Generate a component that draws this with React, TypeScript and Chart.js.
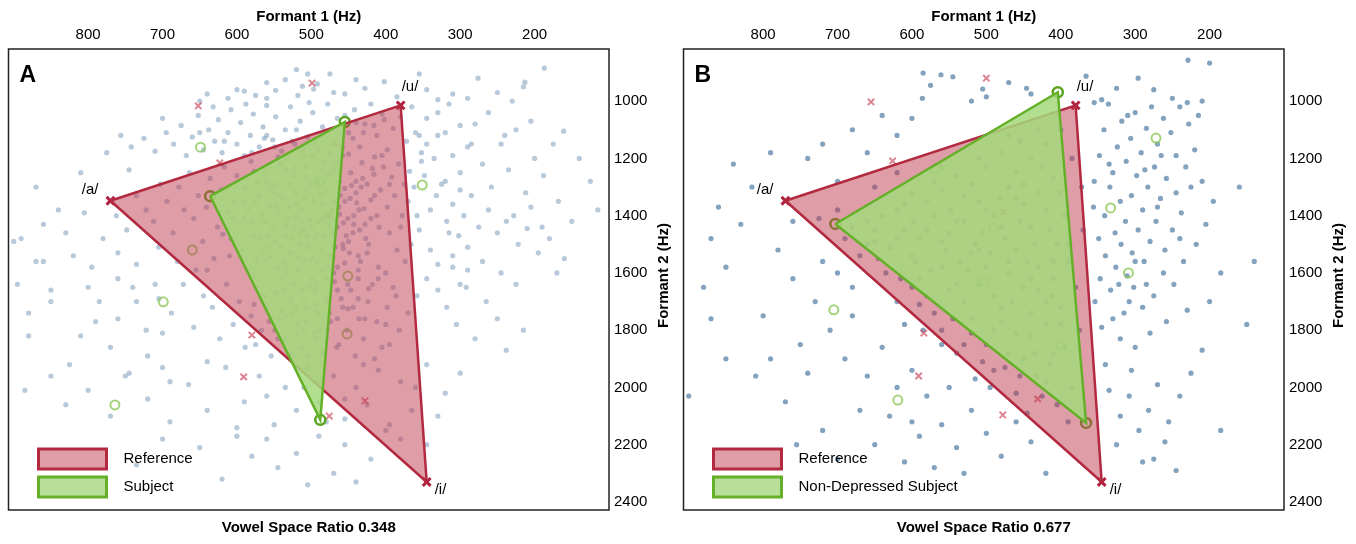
import React, { useEffect, useRef } from "react";
import { Chart, registerables } from "chart.js";

Chart.register(...registerables);

// ---------- data ----------
const F1_RANGE = [100, 907];
const F2_RANGE = [818, 2428];
const F1_TICKS = [200, 300, 400, 500, 600, 700, 800];
const F2_TICKS = [1000, 1200, 1400, 1600, 1800, 2000, 2200, 2400];
const VOWEL_LABELS = ["/a/", "/u/", "/i/"];

const REFERENCE_F1 = [770, 380, 345];
const REFERENCE_F2 = [1348, 1015, 2330];
const SUBJECT_A_F1 = [636, 455, 488];
const SUBJECT_A_F2 = [1332, 1073, 2113];
const SUBJECT_B_F1 = [703, 404, 366];
const SUBJECT_B_F2 = [1429, 969, 2124];

const REF_EXTRA_A = [[499, 937], [652, 1017], [623, 1216], [469, 1147], [476, 1401], [580, 1817], [591, 1963], [428, 2047], [476, 2100]];
const SUBJ_EXTRA_A = [[649, 1161], [351, 1293], [489, 1279], [660, 1520], [699, 1701], [451, 1611], [452, 1813], [764, 2061]];
const REF_EXTRA_B = [[500, 920], [655, 1003], [626, 1209], [477, 1387], [584, 1810], [591, 1960], [431, 2040], [478, 2096]];
const SUBJ_EXTRA_B = [[272, 1129], [333, 1373], [309, 1600], [491, 1443], [503, 1628], [400, 1855], [705, 1729], [619, 2044], [568, 1237]];

const LEGEND_A = ["Reference", "Subject"];
const LEGEND_B = ["Reference", "Non-Depressed Subject"];
const RATIO_A = "Vowel Space Ratio 0.348";
const RATIO_B = "Vowel Space Ratio 0.677";

const DOTS_A = [
  [187,885],[213,934],[215,950],[276,920],[355,905],[402,932],[428,955],[440,925],[470,970],[492,940],[497,958],[505,905],[512,948],[518,980],[535,925],[548,962],[560,935],[575,980],[590,965],[612,990],[640,975],[520,890],[455,975],[385,985],[345,960],[330,995],[310,975],[290,990],[250,970],[230,1000],[475,905],[560,990],[650,1000],[600,960],
  [161,1105],[205,1070],[240,1120],[262,1040],[285,1150],[300,1085],[315,1010],[330,1120],[345,1060],[352,1180],[365,1020],[372,1140],[390,1095],[398,1170],[405,1045],[412,1120],[420,1010],[428,1080],[435,1160],[442,1030],[450,1110],[458,1190],[465,1060],[470,1140],[478,1010],[485,1090],[490,1170],[498,1040],[505,1125],[510,1190],[515,1070],[522,1150],[528,1020],[535,1100],[540,1175],[548,1055],[552,1135],[560,1015],[565,1090],[570,1160],[578,1045],[582,1120],[590,1190],[595,1075],[600,1150],[608,1030],[612,1110],[620,1180],[625,1065],[630,1140],[638,1100],[645,1170],[652,1050],[660,1125],[668,1190],[675,1085],[685,1150],[695,1110],[710,1175],[725,1130],[742,1160],[756,1120],[545,1195],[475,1185],[415,1195],[588,1010],[632,1020],[455,1050],[503,1005],[380,1055],[360,1110],[650,1110],[700,1060],[580,1180],[520,1100],[440,1075],[617,1140],[560,1120],[495,1145],
  [352,1210],[368,1245],[375,1290],[383,1220],[388,1330],[392,1265],[398,1370],[403,1230],[407,1310],[412,1400],[416,1255],[420,1345],[425,1290],[428,1430],[432,1215],[436,1380],[440,1320],[444,1460],[447,1250],[451,1410],[455,1350],[458,1500],[462,1280],[465,1440],[469,1220],[472,1380],[476,1540],[479,1310],[483,1470],[486,1240],[490,1420],[493,1560],[497,1350],[500,1290],[503,1500],[507,1230],[510,1450],[514,1380],[517,1590],[521,1320],[524,1260],[528,1530],[531,1410],[535,1470],[538,1340],[542,1220],[545,1580],[549,1290],[552,1440],[556,1370],[560,1510],[563,1250],[567,1400],[570,1330],[574,1560],[578,1470],[581,1210],[585,1380],[589,1300],[592,1520],[596,1430],[600,1260],[604,1350],[608,1480],[612,1390],[617,1230],[621,1310],[626,1440],[631,1550],[636,1270],[641,1370],[646,1490],[652,1330],[658,1410],[664,1250],[671,1380],[678,1300],[686,1460],[694,1350],[703,1290],[712,1420],[722,1380],[735,1330],[748,1450],[762,1400],[780,1480],[805,1390],[830,1460],[860,1430],[890,1480],[870,1560],[820,1540],[795,1580],[760,1530],[735,1570],[705,1510],[680,1560],[655,1590],[395,1460],[385,1520],[378,1400],[370,1350],[362,1300],[355,1450],[348,1260],[340,1380],[332,1330],[325,1290],[318,1420],[310,1360],[302,1470],[295,1400],[285,1330],[275,1440],[262,1380],[250,1460],[238,1420],[222,1500],[210,1445],[195,1530],[180,1480],[160,1550],[340,1520],[330,1570],[310,1540],[290,1590],[410,1580],[425,1530],[437,1590],[455,1565],[470,1600],[487,1520],[508,1555],[533,1600],[555,1545],[585,1590],[610,1540],[640,1590],
  [431,1270],[439,1355],[446,1295],[453,1470],[461,1330],[468,1510],[474,1250],[481,1395],[488,1325],[495,1480],[502,1415],[509,1340],[516,1500],[523,1440],[530,1290],[537,1560],[544,1390],[551,1320],[558,1470],[565,1530],[572,1285],[579,1420],[427,1480],[434,1560],[443,1400],[449,1530],[457,1425],[463,1370],[471,1460],[478,1580],[485,1360],[492,1300],[499,1550],[506,1470],[513,1420],[520,1360],[527,1480],[534,1240],[541,1510],[548,1370],[555,1300],[562,1420],[569,1480],
  [405,1190],[418,1235],[433,1300],[448,1340],[462,1395],[477,1430],[491,1465],[505,1510],[519,1545],[533,1580],[410,1620],[423,1655],[437,1690],[451,1725],[465,1760],[479,1795],[493,1830],[507,1265],[521,1230],[535,1195],[549,1160],[563,1130],[577,1245],[591,1355],[605,1410],[619,1465],[450,1185],[464,1215],[478,1260],[492,1285],[506,1310],[520,1405],[534,1435],[548,1490],[562,1555],[576,1610],[415,1330],[429,1375],[443,1430],[457,1515],[471,1545],[485,1590],[499,1620],[513,1660],[527,1690],[541,1730],[395,1290],[409,1440],[423,1500],[437,1540],[451,1640],[465,1660],[479,1700],[493,1710],[507,1770],[521,1820],[535,1750],[549,1800],[563,1680],[577,1710],[440,1280],[455,1305],[470,1350],[485,1410],[500,1440],[515,1460],[530,1370],[545,1330],[560,1280],[575,1350],[590,1410],[420,1410],[435,1450],[450,1490],[465,1580],[480,1620],[495,1660],[510,1700],[525,1740],[540,1620],[400,1600],[386,1680],[374,1560],[366,1500],[358,1400],[380,1440],[470,1240],[484,1210],[498,1190],[512,1170],[526,1140],[458,1160],[444,1130],[430,1110],[416,1085],[402,1065],
  [345,1620],[358,1680],[370,1740],[382,1800],[390,1650],[398,1720],[405,1860],[412,1770],[418,1640],[424,1700],[430,1830],[436,1760],[441,1890],[447,1660],[452,1800],[458,1720],[463,1850],[469,1630],[474,1770],[480,1690],[485,1880],[491,1740],[496,1810],[502,1650],[507,1720],[513,1860],[519,1780],[524,1640],[530,1700],[536,1830],[542,1760],[548,1670],[554,1890],[560,1720],[567,1800],[574,1650],[581,1750],[589,1860],[597,1700],[605,1780],[614,1640],[623,1830],[633,1720],[645,1680],[658,1790],[672,1640],[688,1740],[705,1690],[722,1800],[740,1650],[760,1760],[785,1700],[810,1820],[850,1660],[880,1740],[330,1660],[318,1720],[305,1780],[292,1650],[280,1830],[265,1700],[250,1760],[238,1870],[225,1640],[215,1800],[395,1850],[415,1900],[437,1620],[460,1690],[476,1740],[493,1640],[510,1800],[527,1880],[545,1830],[400,1780],[428,1760],[444,1720],[466,1860],[487,1800],[505,1890],[520,1720],[538,1660],[557,1770],[575,1850],
  [300,1950],[320,2020],[345,1920],[365,2080],[380,1980],[395,2130],[410,1940],[425,2060],[440,2000],[455,2110],[470,1960],[490,2050],[505,1930],[520,2080],[535,2000],[550,2130],[570,1960],[590,2050],[615,1930],[640,2080],[665,1990],[690,2120],[720,2040],[745,1950],[770,2100],[800,2010],[830,2060],[850,1960],[885,2010],[640,1910],[560,2030],[480,2120],[430,1920],[360,2000],[330,2100],[600,2140],[700,1930],[510,2000],[455,2040],
  [380,2180],[420,2250],[455,2200],[470,2300],[490,2170],[520,2230],[545,2280],[560,2180],[580,2240],[600,2170],[620,2320],[650,2210],[700,2180],[735,2270],[440,2330],[505,2340],[345,2200],[400,2150],
  [330,1040],[320,1110],[310,1190],[300,1250],[290,1160],[280,1080],[270,1220],[258,1300],[245,1150],[235,1240],[225,1100],[212,1320],[200,1200],[188,1260],[175,1150],[168,1350],[150,1420],[140,1200],[125,1280],[115,1380],[300,1310],[320,1280],[335,1200],[345,1150],[355,1120],[315,1460],[290,1510],[270,1560],[245,1600],[228,1400],[205,1370],[190,1440],[170,1600],[300,1640],[310,1580],
  [900,1490],[895,1640],[880,1820],[870,1300],[860,1560],[850,1700],[840,1380],[825,1920],[810,1250],[800,1650],[790,1770],[775,1180],[770,1860],[760,1620],[750,1960],[745,1240],[735,1700],[720,1890],[710,1640],[700,1810],[690,1980]
];

const DOTS_B = [
  [229,857],[200,867],[585,902],[561,908],[545,915],[366,913],[446,955],[505,958],[500,985],[586,990],[520,1000],[575,945],[470,935],[440,975],[296,920],[325,955],[275,960],[250,990],[230,1005],[210,1000],[345,995],[355,1005],
  [215,1050],[228,1080],[240,1020],[252,1110],[262,1060],[270,1150],[278,1020],[285,1095],[292,1180],[300,1040],[306,1130],[312,1210],[318,1070],[324,1160],[330,1250],[336,1010],[342,1100],[348,1190],[355,1280],[220,1170],[232,1230],[245,1190],[258,1270],[266,1340],[274,1230],[283,1300],[290,1380],[298,1260],[305,1330],[313,1420],[320,1350],[327,1460],[334,1300],[341,1400],[349,1480],[356,1370],[225,1300],[238,1390],[250,1450],[260,1520],[272,1420],[280,1490],[288,1560],[296,1450],[304,1530],[311,1610],[319,1500],[326,1580],[333,1660],[340,1540],[347,1620],[354,1700],[205,1430],[218,1500],[235,1560],[248,1640],[262,1600],[275,1680],[290,1720],[302,1650],[315,1740],[330,1760],[345,1790],[210,1280],[195,1350],[185,1600],[200,1700],[230,1730],[258,1770],[280,1810],[300,1860],[320,1830],[265,1190],[245,1320],[310,1050],[287,1240],[335,1220],[300,1560],[285,1640],[270,1370],[322,1640],[308,1700],[240,1480],
  [210,1870],[225,1950],[240,2030],[255,2120],[270,1990],[282,2080],[295,2150],[308,2030],[320,2100],[335,2010],[260,2190],[275,2250],[245,2290],[305,1940],[325,2200],[290,2260],[340,1920],[160,1300],[140,1560],[150,1780],[185,2150],
  [400,1100],[420,1150],[440,1200],[460,1250],[480,1180],[500,1230],[520,1290],[540,1260],[560,1310],[580,1350],[600,1320],[620,1380],[640,1400],[660,1420],[680,1440],[410,1270],[430,1320],[450,1360],[470,1300],[490,1400],[510,1350],[530,1420],[550,1460],[570,1400],[590,1480],[610,1450],[630,1510],[650,1490],[670,1540],[395,1400],[415,1450],[435,1500],[455,1420],[475,1480],[495,1530],[515,1500],[535,1560],[555,1520],[575,1590],[595,1560],[615,1620],[635,1600],[390,1560],[410,1620],[430,1580],[450,1650],[470,1600],[490,1680],[510,1640],[530,1700],[550,1660],[570,1740],[590,1710],[610,1780],[400,1720],[420,1780],[440,1740],[460,1810],[480,1770],[500,1850],[520,1810],[540,1880],[560,1850],[395,1860],[415,1920],[435,1880],[455,1960],[475,1930],[495,2000],[515,1970],[385,2000],[405,2060],[425,2030],[445,2090],[390,2120],[412,1680],[445,1560],[505,1460],[455,1140],[425,1230],[482,1340],[548,1380],[598,1420],[525,1590],[465,1700],[545,1760],[405,1500],[375,1800],[380,1650],[370,1450],[372,1300],[385,1200],[660,1500],[690,1480],[645,1550],[620,1700],[585,1800],[470,1880],[432,1960],[505,1910],[590,1620],
  [430,1100],[470,1120],[510,1200],[450,1290],[530,1330],[570,1280],[610,1360],[650,1450],[480,1440],[520,1530],[560,1580],[600,1650],[440,1620],[460,1520],[500,1580],[540,1640],[580,1680],[420,1700],[480,1720],[520,1760],[560,1800],[440,1820],[490,1800],[530,1850],[410,1880],[450,1900],[490,1940],[420,1980],[460,2020],[400,1780],[400,1320],[420,1380],[440,1440],[390,1500],[410,1560],[460,1340],[500,1380],[540,1420],[580,1450],[620,1480],[600,1540],[560,1490],[510,1520],[470,1560],[430,1660],
  [880,1650],[870,1480],[860,1370],[850,1580],[840,1220],[830,1430],[815,1300],[800,1750],[790,1900],[780,1520],[770,2050],[760,1620],[750,1850],[740,1950],[730,1700],[720,2150],[710,1800],[700,2250],[690,1900],[680,1750],[670,2080],[660,1960],[650,2200],[640,1860],[630,2100],[620,2000],[610,2260],[600,1940],[590,2170],[580,2030],[570,2280],[560,2130],[550,2000],[540,2210],[520,2080],[500,2160],[480,2240],[460,2120],[440,2190],[420,2300],[740,1200],[720,1150],[700,1280],[680,1100],[660,1180],[640,1050],[620,1120],[600,1060],[680,1650],[700,1600],[720,1560],[760,1420],[790,1180],[850,1900],[900,2030],[870,1760],[810,1960],[755,2200],[600,2120],[530,2300],[560,1230],[620,1250],[700,1380],[725,1410],[650,1300]
];

// ---------- styling ----------
const FONT = '"Liberation Sans", Arial, Helvetica, sans-serif';
const RED_LINE = "#b3293f";
const RED_FILL = "rgba(190,60,80,0.5)";
const GREEN_LINE = "#64b028";
const GREEN_FILL = "rgba(165,218,125,0.86)";
const GREEN_LEGEND_FILL = "rgba(160,212,120,0.75)";

type PanelCfg = {
  letter: string;
  subjF1: number[];
  subjF2: number[];
  refExtra: number[][];
  subjExtra: number[][];
  dots: number[][];
  dotColor: string;
  legend: string[];
  ratio: string;
};

const toPts = (arr: number[][]) => arr.map(([x, y]) => ({ x, y }));
const poly = (f1: number[], f2: number[]) => {
  const pts = f1.map((x, i) => ({ x, y: f2[i] }));
  return [...pts, pts[0]];
};

function makeDecor(cfg: PanelCfg) {
  return {
    id: "decor" + cfg.letter,
    afterDraw(chart: any) {
      const { ctx, chartArea: ca, scales } = chart;
      const xs = scales.x;
      const ys = scales.y;
      ctx.save();
      ctx.strokeStyle = "#222";
      ctx.lineWidth = 1.5;
      ctx.strokeRect(ca.left, ca.top, ca.right - ca.left, ca.bottom - ca.top);
      ctx.fillStyle = "#000";
      ctx.font = `bold 23px ${FONT}`;
      ctx.textAlign = "left";
      ctx.textBaseline = "alphabetic";
      ctx.fillText(cfg.letter, ca.left + 11, ca.top + 33);
      ctx.font = `15px ${FONT}`;
      ctx.textBaseline = "middle";
      const offs = [
        { dx: -12, dy: -11, al: "right" },
        { dx: 1, dy: -19, al: "left" },
        { dx: 8, dy: 8, al: "left" },
      ];
      VOWEL_LABELS.forEach((lab, i) => {
        const px = xs.getPixelForValue(REFERENCE_F1[i]);
        const py = ys.getPixelForValue(REFERENCE_F2[i]);
        ctx.textAlign = offs[i].al;
        ctx.fillText(lab, px + offs[i].dx, py + offs[i].dy);
      });
      const items = [
        { fill: RED_FILL, line: RED_LINE },
        { fill: GREEN_LEGEND_FILL, line: GREEN_LINE },
      ];
      items.forEach((it, i) => {
        const bx = ca.left + 30;
        const by = ca.bottom - 61 + i * 28;
        ctx.fillStyle = "#fff";
        ctx.fillRect(bx, by, 68, 20);
        ctx.fillStyle = it.fill;
        ctx.fillRect(bx, by, 68, 20);
        ctx.strokeStyle = it.line;
        ctx.lineWidth = 3;
        ctx.strokeRect(bx, by, 68, 20);
        ctx.fillStyle = "#000";
        ctx.font = `15px ${FONT}`;
        ctx.textAlign = "left";
        ctx.textBaseline = "middle";
        ctx.fillText(cfg.legend[i], bx + 85, by + 10);
      });
      ctx.font = `bold 15px ${FONT}`;
      ctx.textAlign = "center";
      ctx.textBaseline = "middle";
      ctx.fillText(cfg.ratio, (ca.left + ca.right) / 2, ca.bottom + 18);
      ctx.save();
      ctx.translate(ca.right + 55, (ca.top + ca.bottom) / 2 - 4);
      ctx.rotate(-Math.PI / 2);
      ctx.fillText("Formant 2 (Hz)", 0, 0);
      ctx.restore();
      ctx.restore();
    },
  };
}

function Panel({ cfg }: { cfg: PanelCfg }) {
  const ref = useRef<HTMLCanvasElement | null>(null);
  useEffect(() => {
    if (!ref.current) return;
    Chart.defaults.font.family = FONT;
    Chart.defaults.color = "#000";
    const chart = new Chart(ref.current, {
      type: "scatter",
      data: {
        datasets: [
          {
            label: "subject",
            data: poly(cfg.subjF1, cfg.subjF2),
            showLine: true,
            fill: "shape",
            tension: 0,
            backgroundColor: GREEN_FILL,
            borderColor: GREEN_LINE,
            borderWidth: 2.5,
            pointRadius: 0,
            order: 0,
          },
          {
            label: "reference",
            data: poly(REFERENCE_F1, REFERENCE_F2),
            showLine: true,
            fill: "shape",
            tension: 0,
            backgroundColor: RED_FILL,
            borderColor: RED_LINE,
            borderWidth: 2.5,
            pointRadius: 0,
            order: 1,
          },
          {
            label: "subject vowels",
            data: cfg.subjF1.map((x, i) => ({ x, y: cfg.subjF2[i] })),
            pointStyle: "circle",
            pointRadius: 5,
            pointBorderWidth: 2.5,
            borderColor: "#5aa41f",
            backgroundColor: "rgba(255,255,255,0)",
            order: 2,
          },
          {
            label: "reference vowels",
            data: REFERENCE_F1.map((x, i) => ({ x, y: REFERENCE_F2[i] })),
            pointStyle: "crossRot",
            pointRadius: 5.5,
            pointBorderWidth: 3,
            borderColor: "#b0223f",
            backgroundColor: "#b0223f",
            order: 2,
          },
          {
            label: "reference other",
            data: toPts(cfg.refExtra),
            pointStyle: "crossRot",
            pointRadius: 4.5,
            pointBorderWidth: 2,
            borderColor: "rgba(205,80,100,0.7)",
            backgroundColor: "rgba(205,80,100,0.7)",
            order: 3,
          },
          {
            label: "subject other",
            data: toPts(cfg.subjExtra),
            pointStyle: "circle",
            pointRadius: 4.5,
            pointBorderWidth: 2,
            borderColor: "rgba(140,200,90,0.8)",
            backgroundColor: "rgba(255,255,255,0)",
            order: 3,
          },
          {
            label: "tokens",
            data: toPts(cfg.dots),
            pointRadius: 2.6,
            pointBorderWidth: 0,
            borderColor: "rgba(0,0,0,0)",
            backgroundColor: cfg.dotColor,
            order: 4,
          },
        ],
      },
      options: {
        animation: false,
        responsive: false,
        events: [],
        layout: { padding: { left: 7, right: 0, top: 0, bottom: 34 } },
        plugins: { legend: { display: false }, tooltip: { enabled: false }, title: { display: false } },
        scales: {
          x: {
            type: "linear",
            position: "top",
            reverse: true,
            min: F1_RANGE[0],
            max: F1_RANGE[1],
            afterBuildTicks: (s: any) => {
              s.ticks = F1_TICKS.map((v) => ({ value: v }));
            },
            afterFit: (s: any) => {
              s.height = 49;
            },
            grid: { display: false, drawTicks: false },
            border: { display: false },
            ticks: {
              color: "#000",
              font: { size: 15 },
              padding: 5,
              maxRotation: 0,
              autoSkip: false,
              callback: (v: any) => String(v),
            },
            title: {
              display: true,
              text: "Formant 1 (Hz)",
              color: "#000",
              font: { size: 15, weight: "bold" },
              padding: { top: 8, bottom: 0 },
            },
          },
          y: {
            type: "linear",
            position: "right",
            reverse: true,
            min: F2_RANGE[0],
            max: F2_RANGE[1],
            afterBuildTicks: (s: any) => {
              s.ticks = F2_TICKS.map((v) => ({ value: v }));
            },
            afterFit: (s: any) => {
              s.width = 69;
            },
            grid: { display: false, drawTicks: false },
            border: { display: false },
            ticks: {
              color: "#000",
              font: { size: 15 },
              padding: 5,
              autoSkip: false,
              callback: (v: any) => String(v),
            },
          },
        },
      },
      plugins: [makeDecor(cfg)],
    } as any);
    return () => chart.destroy();
  }, [cfg]);
  return <canvas ref={ref} width={678} height={544} style={{ width: 678, height: 544, display: "block" }} />;
}

const PANEL_A: PanelCfg = {
  letter: "A",
  subjF1: SUBJECT_A_F1,
  subjF2: SUBJECT_A_F2,
  refExtra: REF_EXTRA_A,
  subjExtra: SUBJ_EXTRA_A,
  dots: DOTS_A,
  dotColor: "rgba(125,158,185,0.55)",
  legend: LEGEND_A,
  ratio: RATIO_A,
};
const PANEL_B: PanelCfg = {
  letter: "B",
  subjF1: SUBJECT_B_F1,
  subjF2: SUBJECT_B_F2,
  refExtra: REF_EXTRA_B,
  subjExtra: SUBJ_EXTRA_B,
  dots: DOTS_B,
  dotColor: "rgba(55,105,150,0.62)",
  legend: LEGEND_B,
  ratio: RATIO_B,
};

export default function App() {
  return (
    <div style={{ position: "fixed", left: 0, top: 0, width: 1356, height: 544, background: "#fff", overflow: "hidden" }}>
      <div style={{ position: "absolute", left: 0, top: 0 }}>
        <Panel cfg={PANEL_A} />
      </div>
      <div style={{ position: "absolute", left: 675, top: 0 }}>
        <Panel cfg={PANEL_B} />
      </div>
    </div>
  );
}
